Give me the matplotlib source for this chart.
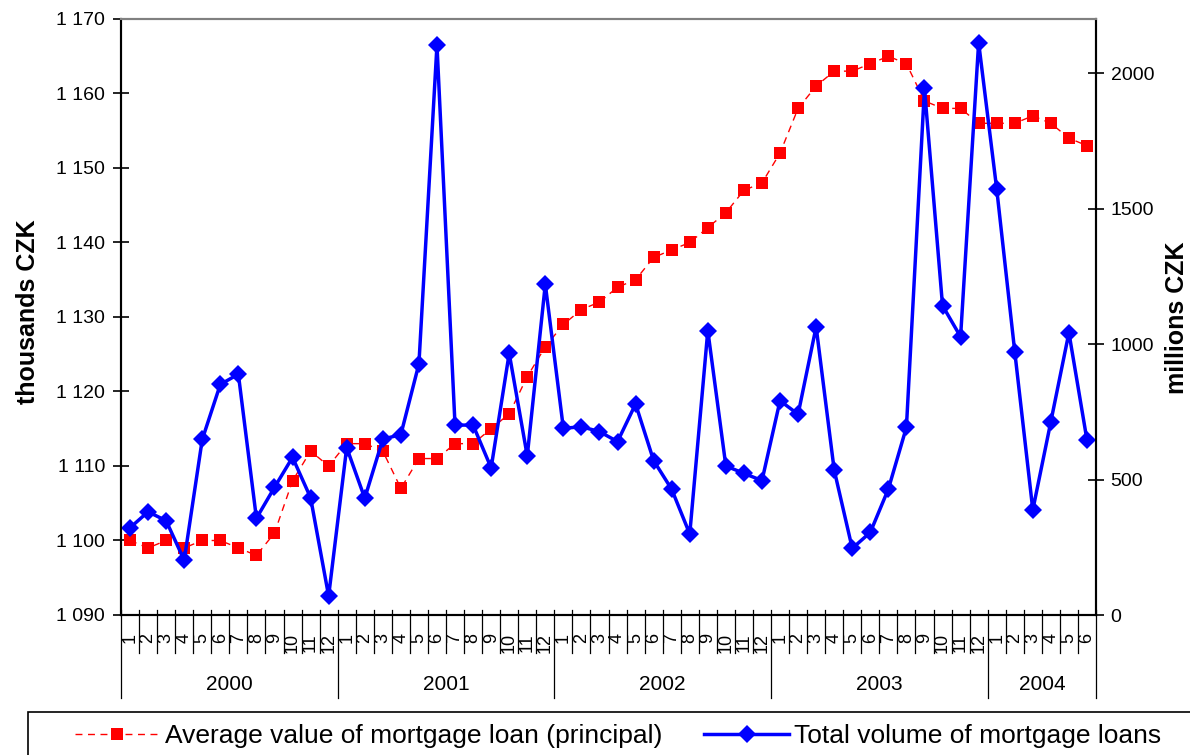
import numpy as np
import matplotlib.pyplot as plt
from matplotlib.lines import Line2D
from matplotlib.patches import Rectangle

plt.rcParams['font.family'] = ['Liberation Sans', 'DejaVu Sans']

# months Jan 2000 .. Jun 2004
years = ['2000', '2001', '2002', '2003', '2004']
months_per_year = [12, 12, 12, 12, 6]
month_labels = [str(m) for n in months_per_year for m in range(1, n + 1)]

# average value of mortgage loan (principal), thousands CZK
avg_value = [1100, 1099, 1100, 1099, 1100, 1100, 1099, 1098, 1101, 1108, 1112, 1110,
             1113, 1113, 1112, 1107, 1111, 1111, 1113, 1113, 1115, 1117, 1122, 1126,
             1129, 1131, 1132, 1134, 1135, 1138, 1139, 1140, 1142, 1144, 1147, 1148,
             1152, 1158, 1161, 1163, 1163, 1164, 1165, 1164, 1159, 1158, 1158, 1156,
             1156, 1156, 1157, 1156, 1154, 1153]

# total volume of mortgage loans, millions CZK
total_volume = [322, 381, 348, 202, 648, 851, 889, 357, 471, 582, 433, 70,
                618, 431, 649, 666, 927, 2104, 701, 701, 543, 966, 587, 1221,
                689, 695, 677, 640, 779, 570, 464, 299, 1050, 550, 523, 496,
                791, 741, 1064, 535, 246, 305, 465, 693, 1944, 1142, 1027, 2113,
                1573, 972, 388, 714, 1042, 646]

x = np.arange(len(month_labels))

fig = plt.figure(figsize=(11.9, 7.55), dpi=100)
ax = fig.add_axes([121 / 1190, 1 - 615 / 755, 975 / 1190, 596 / 755])
ax2 = ax.twinx()

l1, = ax.plot(x, avg_value, color='#ff0000', linestyle=(0, (5, 4)), linewidth=1,
              marker='s', markersize=8, markeredgewidth=0,
              label='Average value of mortgage loan (principal)')
l2, = ax2.plot(x, total_volume, color='#0000ff', linewidth=2.5,
               marker='D', markersize=9.5, markeredgewidth=0,
               label='Total volume of mortgage loans')

ax.set_xlim(-0.5, len(x) - 0.5)
ax.set_ylim(1090, 1170)
ax2.set_ylim(0, 2200)

lt = np.arange(1090, 1171, 10)
ax.set_yticks(lt)
ax.set_yticklabels([f'{v:,}'.replace(',', ' ') for v in lt], fontsize=14)
rt = np.arange(0, 2001, 500)
ax2.set_yticks(rt)
ax2.set_yticklabels([str(v) for v in rt], fontsize=14)
ax.tick_params(axis='y', direction='inout', length=11, width=1.2, pad=6)
ax2.tick_params(axis='y', direction='inout', length=11, width=1.2, pad=5)

# month labels
ax.set_xticks(x)
ax.set_xticklabels(month_labels, rotation=90, fontsize=13)
ax.tick_params(axis='x', length=0, pad=13)

for a in (ax, ax2):
    for s in ('left', 'right', 'bottom'):
        a.spines[s].set_color('black')
        a.spines[s].set_linewidth(1.5)
    a.spines['top'].set_color('#808080')
    a.spines['top'].set_linewidth(1.5)

# month and year separator lines under the axis
tr = ax.get_xaxis_transform()
bounds = np.arange(-0.5, len(x), 1)
year_bounds = np.concatenate([[0], np.cumsum(months_per_year)]) - 0.5
for b in bounds:
    low = -0.139 if b in year_bounds else -0.064
    ax.add_line(Line2D([b, b], [0.009, low], transform=tr, color='black',
                       linewidth=0.9, clip_on=False))
for i, yr in enumerate(years):
    mid = (year_bounds[i] + year_bounds[i + 1]) / 2
    ax.text(mid, -0.116, yr, transform=tr, ha='center', va='center', fontsize=15)

fig.text(28 / 1190, 1 - 312 / 755, 'thousands CZK', rotation=90, ha='center',
         va='center', fontsize=18, fontweight='bold')
fig.text(1177 / 1190, 1 - 318 / 755, 'millions CZK', rotation=90, ha='center',
         va='center', fontsize=18, fontweight='bold')

# legend frame runs past the right/bottom edge as in the original
fig.patches.append(Rectangle((28 / 1190, -0.02), 1.0, 0.02 + (755 - 712) / 755,
                             transform=fig.transFigure, fill=False,
                             edgecolor='black', linewidth=1.2))
leg = fig.legend(handles=[l1, l2], loc='center left', ncol=2,
                 bbox_to_anchor=(75 / 1190, 1 - 736 / 755), fontsize=19,
                 frameon=False, handlelength=3.2, handletextpad=0.2,
                 columnspacing=1.6, borderpad=0, borderaxespad=0)

fig.savefig('out.png', dpi=100)
